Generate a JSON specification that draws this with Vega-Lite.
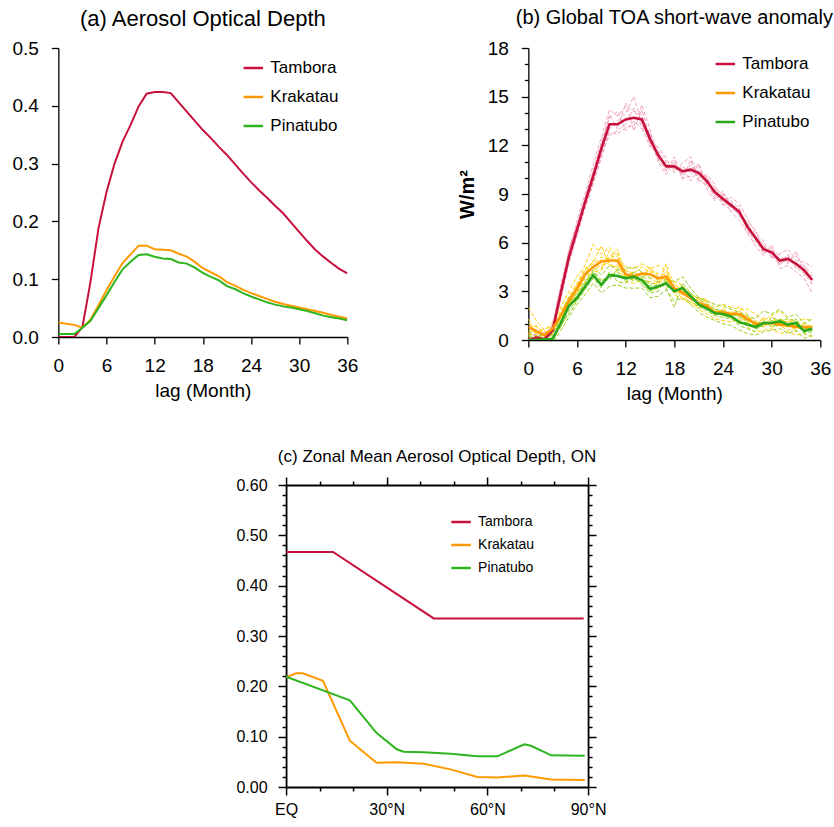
{
  "$schema": "https://vega.github.io/schema/vega-lite/v6.json",
  "background": "white",
  "padding": {"left": 11, "top": 8, "right": 2, "bottom": 2},
  "datasets": {
    "aodTime": [
      {"lag": 0, "Tambora": 0, "Krakatau": 0.025, "Pinatubo": 0.005},
      {"lag": 1, "Tambora": 0, "Krakatau": 0.023, "Pinatubo": 0.005},
      {"lag": 2, "Tambora": 0, "Krakatau": 0.021, "Pinatubo": 0.005},
      {"lag": 3, "Tambora": 0.017, "Krakatau": 0.016, "Pinatubo": 0.016},
      {"lag": 4, "Tambora": 0.095, "Krakatau": 0.030, "Pinatubo": 0.028},
      {"lag": 5, "Tambora": 0.188, "Krakatau": 0.055, "Pinatubo": 0.050},
      {"lag": 6, "Tambora": 0.251, "Krakatau": 0.081, "Pinatubo": 0.072},
      {"lag": 7, "Tambora": 0.300, "Krakatau": 0.105, "Pinatubo": 0.095},
      {"lag": 8, "Tambora": 0.338, "Krakatau": 0.128, "Pinatubo": 0.117},
      {"lag": 9, "Tambora": 0.367, "Krakatau": 0.143, "Pinatubo": 0.130},
      {"lag": 10, "Tambora": 0.399, "Krakatau": 0.158, "Pinatubo": 0.142},
      {"lag": 11, "Tambora": 0.421, "Krakatau": 0.158, "Pinatubo": 0.143},
      {"lag": 12, "Tambora": 0.424, "Krakatau": 0.152, "Pinatubo": 0.139},
      {"lag": 13, "Tambora": 0.424, "Krakatau": 0.151, "Pinatubo": 0.136},
      {"lag": 14, "Tambora": 0.422, "Krakatau": 0.150, "Pinatubo": 0.135},
      {"lag": 15, "Tambora": 0.406, "Krakatau": 0.144, "Pinatubo": 0.129},
      {"lag": 16, "Tambora": 0.390, "Krakatau": 0.139, "Pinatubo": 0.127},
      {"lag": 17, "Tambora": 0.374, "Krakatau": 0.130, "Pinatubo": 0.120},
      {"lag": 18, "Tambora": 0.358, "Krakatau": 0.119, "Pinatubo": 0.111},
      {"lag": 19, "Tambora": 0.344, "Krakatau": 0.112, "Pinatubo": 0.104},
      {"lag": 20, "Tambora": 0.329, "Krakatau": 0.105, "Pinatubo": 0.098},
      {"lag": 21, "Tambora": 0.315, "Krakatau": 0.095, "Pinatubo": 0.088},
      {"lag": 22, "Tambora": 0.299, "Krakatau": 0.089, "Pinatubo": 0.083},
      {"lag": 23, "Tambora": 0.283, "Krakatau": 0.082, "Pinatubo": 0.076},
      {"lag": 24, "Tambora": 0.268, "Krakatau": 0.076, "Pinatubo": 0.070},
      {"lag": 25, "Tambora": 0.254, "Krakatau": 0.071, "Pinatubo": 0.065},
      {"lag": 26, "Tambora": 0.241, "Krakatau": 0.066, "Pinatubo": 0.060},
      {"lag": 27, "Tambora": 0.227, "Krakatau": 0.061, "Pinatubo": 0.056},
      {"lag": 28, "Tambora": 0.214, "Krakatau": 0.057, "Pinatubo": 0.053},
      {"lag": 29, "Tambora": 0.198, "Krakatau": 0.054, "Pinatubo": 0.051},
      {"lag": 30, "Tambora": 0.182, "Krakatau": 0.051, "Pinatubo": 0.048},
      {"lag": 31, "Tambora": 0.166, "Krakatau": 0.048, "Pinatubo": 0.045},
      {"lag": 32, "Tambora": 0.151, "Krakatau": 0.045, "Pinatubo": 0.041},
      {"lag": 33, "Tambora": 0.139, "Krakatau": 0.042, "Pinatubo": 0.037},
      {"lag": 34, "Tambora": 0.128, "Krakatau": 0.038, "Pinatubo": 0.034},
      {"lag": 35, "Tambora": 0.118, "Krakatau": 0.035, "Pinatubo": 0.032},
      {"lag": 36, "Tambora": 0.110, "Krakatau": 0.032, "Pinatubo": 0.029}
    ],
    "toa": [
      {"lag": 0, "Tambora": 0, "Krakatau": 0.8, "Pinatubo": 0, "T1": 0.3, "T2": -0.2, "T3": 0.5, "T4": 0.0, "T5": 0.1, "T6": 0.4, "K1": 2.0, "K2": 0.4, "K3": 1.0, "K4": 0.6, "K5": 0.2, "K6": 1.3, "P1": 0.5, "P2": 0.0, "P3": 0.3, "P4": -0.1, "P5": 0.2, "P6": -0.2},
      {"lag": 1, "Tambora": 0.15, "Krakatau": 0.55, "Pinatubo": 0, "T1": 0.6, "T2": 0.1, "T3": 0.2, "T4": 0.4, "T5": -0.1, "T6": 0.3, "K1": 1.2, "K2": 0.2, "K3": 0.8, "K4": 0.4, "K5": 0.9, "K6": 0.3, "P1": 0.2, "P2": -0.3, "P3": 0.1, "P4": 0.2, "P5": 0.0, "P6": 0.3},
      {"lag": 2, "Tambora": 0.05, "Krakatau": 0.3, "Pinatubo": 0.05, "T1": 0.2, "T2": 0.5, "T3": -0.1, "T4": 0.3, "T5": 0.4, "T6": 0.0, "K1": 0.6, "K2": 0.1, "K3": 0.5, "K4": 0.0, "K5": 0.2, "K6": 0.7, "P1": 0.4, "P2": 0.0, "P3": -0.1, "P4": 0.3, "P5": 0.2, "P6": -0.1},
      {"lag": 3, "Tambora": 0.6, "Krakatau": 0.7, "Pinatubo": 0.05, "T1": 1.0, "T2": 0.4, "T3": 0.9, "T4": 0.3, "T5": 0.8, "T6": 0.5, "K1": 1.1, "K2": 0.4, "K3": 0.6, "K4": 0.9, "K5": 0.5, "K6": 0.8, "P1": 0.3, "P2": -0.2, "P3": 0.4, "P4": 0.1, "P5": 0.0, "P6": 0.2},
      {"lag": 4, "Tambora": 2.9, "Krakatau": 1.5, "Pinatubo": 1.05, "T1": 3.4, "T2": 2.5, "T3": 3.2, "T4": 2.7, "T5": 3.1, "T6": 2.6, "K1": 2.0, "K2": 1.1, "K3": 1.8, "K4": 1.3, "K5": 1.6, "K6": 1.2, "P1": 1.5, "P2": 0.6, "P3": 1.2, "P4": 0.9, "P5": 1.1, "P6": 0.8},
      {"lag": 5, "Tambora": 5.1, "Krakatau": 2.4, "Pinatubo": 2.1, "T1": 5.5, "T2": 4.7, "T3": 5.3, "T4": 4.9, "T5": 5.0, "T6": 5.6, "K1": 3.0, "K2": 2.0, "K3": 2.6, "K4": 2.2, "K5": 2.7, "K6": 2.1, "P1": 2.6, "P2": 1.4, "P3": 2.3, "P4": 1.6, "P5": 2.2, "P6": 1.8},
      {"lag": 6, "Tambora": 6.8, "Krakatau": 3.2, "Pinatubo": 2.6, "T1": 7.4, "T2": 6.4, "T3": 7.1, "T4": 6.6, "T5": 6.5, "T6": 7.0, "K1": 3.9, "K2": 2.7, "K3": 3.5, "K4": 3.0, "K5": 3.4, "K6": 2.9, "P1": 3.1, "P2": 2.2, "P3": 2.9, "P4": 2.4, "P5": 2.7, "P6": 2.5},
      {"lag": 7, "Tambora": 8.5, "Krakatau": 4.05, "Pinatubo": 3.3, "T1": 9.0, "T2": 8.1, "T3": 8.8, "T4": 8.3, "T5": 8.7, "T6": 8.2, "K1": 4.6, "K2": 3.6, "K3": 4.4, "K4": 3.8, "K5": 4.3, "K6": 4.1, "P1": 3.9, "P2": 2.8, "P3": 3.6, "P4": 3.1, "P5": 3.5, "P6": 3.2},
      {"lag": 8, "Tambora": 10.1, "Krakatau": 4.5, "Pinatubo": 4.0, "T1": 10.8, "T2": 9.7, "T3": 10.4, "T4": 9.8, "T5": 10.3, "T6": 9.6, "K1": 5.9, "K2": 4.2, "K3": 4.8, "K4": 4.3, "K5": 4.7, "K6": 4.9, "P1": 4.5, "P2": 3.5, "P3": 4.3, "P4": 3.8, "P5": 4.2, "P6": 3.9},
      {"lag": 9, "Tambora": 11.8, "Krakatau": 4.85, "Pinatubo": 3.4, "T1": 12.5, "T2": 11.2, "T3": 12.2, "T4": 11.5, "T5": 11.9, "T6": 11.4, "K1": 5.3, "K2": 4.3, "K3": 5.8, "K4": 4.6, "K5": 5.1, "K6": 4.4, "P1": 4.0, "P2": 2.9, "P3": 3.7, "P4": 3.2, "P5": 3.6, "P6": 3.3},
      {"lag": 10, "Tambora": 13.3, "Krakatau": 4.9, "Pinatubo": 4.0, "T1": 14.2, "T2": 12.8, "T3": 13.7, "T4": 13.0, "T5": 13.9, "T6": 12.6, "K1": 5.7, "K2": 5.1, "K3": 4.6, "K4": 4.8, "K5": 5.0, "K6": 5.5, "P1": 4.6, "P2": 3.3, "P3": 3.7, "P4": 4.2, "P5": 4.1, "P6": 3.9},
      {"lag": 11, "Tambora": 13.3, "Krakatau": 4.9, "Pinatubo": 3.95, "T1": 13.8, "T2": 12.7, "T3": 14.1, "T4": 13.5, "T5": 13.0, "T6": 12.9, "K1": 5.1, "K2": 5.6, "K3": 4.5, "K4": 4.2, "K5": 5.3, "K6": 4.6, "P1": 4.3, "P2": 3.4, "P3": 4.4, "P4": 3.6, "P5": 4.0, "P6": 4.2},
      {"lag": 12, "Tambora": 13.6, "Krakatau": 4.05, "Pinatubo": 3.8, "T1": 14.4, "T2": 13.1, "T3": 12.9, "T4": 14.0, "T5": 14.6, "T6": 13.3, "K1": 4.5, "K2": 3.6, "K3": 4.3, "K4": 3.9, "K5": 4.3, "K6": 3.8, "P1": 4.4, "P2": 3.2, "P3": 4.1, "P4": 3.5, "P5": 3.9, "P6": 3.6},
      {"lag": 13, "Tambora": 13.7, "Krakatau": 3.95, "Pinatubo": 3.9, "T1": 14.1, "T2": 13.2, "T3": 13.5, "T4": 15.0, "T5": 12.9, "T6": 14.3, "K1": 4.4, "K2": 3.5, "K3": 4.0, "K4": 3.7, "K5": 4.1, "K6": 4.2, "P1": 4.5, "P2": 3.2, "P3": 3.6, "P4": 4.2, "P5": 4.0, "P6": 3.8},
      {"lag": 14, "Tambora": 13.6, "Krakatau": 4.1, "Pinatubo": 3.7, "T1": 13.9, "T2": 14.5, "T3": 13.0, "T4": 13.3, "T5": 14.2, "T6": 13.1, "K1": 4.7, "K2": 3.7, "K3": 3.8, "K4": 4.2, "K5": 4.5, "K6": 3.9, "P1": 4.2, "P2": 3.2, "P3": 4.1, "P4": 3.4, "P5": 3.9, "P6": 3.5},
      {"lag": 15, "Tambora": 12.4, "Krakatau": 4.05, "Pinatubo": 3.15, "T1": 12.0, "T2": 13.0, "T3": 12.8, "T4": 12.2, "T5": 12.6, "T6": 11.9, "K1": 4.4, "K2": 3.6, "K3": 4.5, "K4": 3.8, "K5": 4.2, "K6": 4.4, "P1": 3.8, "P2": 2.6, "P3": 3.4, "P4": 2.9, "P5": 3.3, "P6": 3.0},
      {"lag": 16, "Tambora": 11.4, "Krakatau": 3.8, "Pinatubo": 3.3, "T1": 11.9, "T2": 11.0, "T3": 11.7, "T4": 11.1, "T5": 11.2, "T6": 11.6, "K1": 4.6, "K2": 3.4, "K3": 3.9, "K4": 3.5, "K5": 4.1, "K6": 3.6, "P1": 3.9, "P2": 2.7, "P3": 3.6, "P4": 3.0, "P5": 3.4, "P6": 3.2},
      {"lag": 17, "Tambora": 10.7, "Krakatau": 3.9, "Pinatubo": 3.5, "T1": 11.2, "T2": 10.2, "T3": 11.0, "T4": 10.5, "T5": 10.9, "T6": 10.4, "K1": 4.3, "K2": 4.7, "K3": 3.6, "K4": 3.8, "K5": 4.0, "K6": 4.2, "P1": 3.7, "P2": 3.1, "P3": 3.2, "P4": 3.8, "P5": 3.3, "P6": 3.6},
      {"lag": 18, "Tambora": 10.7, "Krakatau": 3.2, "Pinatubo": 3.0, "T1": 10.3, "T2": 11.1, "T3": 10.5, "T4": 10.9, "T5": 10.5, "T6": 11.3, "K1": 3.6, "K2": 2.8, "K3": 3.4, "K4": 3.0, "K5": 3.5, "K6": 3.1, "P1": 3.6, "P2": 2.4, "P3": 2.0, "P4": 3.2, "P5": 3.1, "P6": 2.9},
      {"lag": 19, "Tambora": 10.4, "Krakatau": 2.9, "Pinatubo": 3.2, "T1": 10.9, "T2": 10.0, "T3": 10.6, "T4": 10.2, "T5": 10.7, "T6": 9.9, "K1": 3.4, "K2": 2.5, "K3": 3.1, "K4": 2.6, "K5": 3.0, "K6": 2.8, "P1": 3.9, "P2": 2.6, "P3": 3.5, "P4": 2.9, "P5": 3.0, "P6": 3.3},
      {"lag": 20, "Tambora": 10.5, "Krakatau": 2.6, "Pinatubo": 2.7, "T1": 11.3, "T2": 10.1, "T3": 9.8, "T4": 10.8, "T5": 10.3, "T6": 11.1, "K1": 2.7, "K2": 2.4, "K3": 2.9, "K4": 2.2, "K5": 2.8, "K6": 2.3, "P1": 3.2, "P2": 2.2, "P3": 2.9, "P4": 2.5, "P5": 2.8, "P6": 2.6},
      {"lag": 21, "Tambora": 10.3, "Krakatau": 2.3, "Pinatubo": 2.2, "T1": 10.0, "T2": 10.8, "T3": 10.5, "T4": 9.9, "T5": 10.9, "T6": 9.7, "K1": 2.6, "K2": 1.9, "K3": 2.5, "K4": 2.1, "K5": 2.2, "K6": 2.6, "P1": 2.6, "P2": 1.7, "P3": 2.5, "P4": 2.0, "P5": 2.3, "P6": 2.1},
      {"lag": 22, "Tambora": 9.8, "Krakatau": 2.1, "Pinatubo": 1.95, "T1": 10.2, "T2": 9.3, "T3": 10.0, "T4": 9.5, "T5": 9.6, "T6": 10.1, "K1": 2.5, "K2": 1.6, "K3": 2.3, "K4": 1.9, "K5": 2.0, "K6": 2.4, "P1": 2.4, "P2": 1.4, "P3": 2.2, "P4": 1.8, "P5": 2.0, "P6": 1.9},
      {"lag": 23, "Tambora": 9.1, "Krakatau": 1.7, "Pinatubo": 1.65, "T1": 9.6, "T2": 8.6, "T3": 9.4, "T4": 8.9, "T5": 9.3, "T6": 8.7, "K1": 2.0, "K2": 1.3, "K3": 1.6, "K4": 1.8, "K5": 1.9, "K6": 1.5, "P1": 2.2, "P2": 1.2, "P3": 1.9, "P4": 1.5, "P5": 1.6, "P6": 1.8},
      {"lag": 24, "Tambora": 8.7, "Krakatau": 1.7, "Pinatubo": 1.6, "T1": 8.3, "T2": 9.2, "T3": 8.9, "T4": 8.4, "T5": 8.5, "T6": 9.0, "K1": 2.2, "K2": 1.2, "K3": 1.9, "K4": 1.5, "K5": 1.6, "K6": 2.0, "P1": 2.1, "P2": 1.0, "P3": 1.8, "P4": 1.4, "P5": 1.7, "P6": 1.5},
      {"lag": 25, "Tambora": 8.3, "Krakatau": 1.6, "Pinatubo": 1.45, "T1": 8.8, "T2": 7.9, "T3": 8.6, "T4": 8.0, "T5": 8.2, "T6": 8.4, "K1": 2.0, "K2": 1.1, "K3": 1.5, "K4": 1.8, "K5": 1.7, "K6": 1.4, "P1": 1.9, "P2": 0.9, "P3": 1.6, "P4": 1.3, "P5": 1.5, "P6": 1.4},
      {"lag": 26, "Tambora": 7.9, "Krakatau": 1.6, "Pinatubo": 1.1, "T1": 8.4, "T2": 7.4, "T3": 7.6, "T4": 8.1, "T5": 7.7, "T6": 8.2, "K1": 1.9, "K2": 1.3, "K3": 1.8, "K4": 1.4, "K5": 1.5, "K6": 2.1, "P1": 1.7, "P2": 0.6, "P3": 1.4, "P4": 0.9, "P5": 1.2, "P6": 1.0},
      {"lag": 27, "Tambora": 7.0, "Krakatau": 1.3, "Pinatubo": 0.95, "T1": 7.5, "T2": 6.6, "T3": 7.3, "T4": 6.8, "T5": 7.2, "T6": 6.6, "K1": 1.9, "K2": 0.8, "K3": 1.4, "K4": 1.1, "K5": 1.2, "K6": 1.6, "P1": 1.5, "P2": 0.4, "P3": 1.2, "P4": 0.7, "P5": 0.9, "P6": 1.1},
      {"lag": 28, "Tambora": 6.3, "Krakatau": 1.0, "Pinatubo": 0.8, "T1": 6.6, "T2": 5.8, "T3": 6.8, "T4": 6.0, "T5": 6.2, "T6": 6.5, "K1": 1.6, "K2": 0.5, "K3": 1.2, "K4": 0.9, "K5": 1.1, "K6": 0.8, "P1": 1.3, "P2": 0.3, "P3": 1.1, "P4": 0.5, "P5": 0.9, "P6": 0.7},
      {"lag": 29, "Tambora": 5.6, "Krakatau": 1.0, "Pinatubo": 1.05, "T1": 6.1, "T2": 5.2, "T3": 5.4, "T4": 5.8, "T5": 5.3, "T6": 5.9, "K1": 1.2, "K2": 0.6, "K3": 0.9, "K4": 1.3, "K5": 0.8, "K6": 1.4, "P1": 1.8, "P2": 0.5, "P3": 0.8, "P4": 1.2, "P5": 1.1, "P6": 0.9},
      {"lag": 30, "Tambora": 5.4, "Krakatau": 1.05, "Pinatubo": 1.05, "T1": 5.0, "T2": 5.9, "T3": 5.6, "T4": 5.2, "T5": 5.7, "T6": 5.1, "K1": 1.5, "K2": 0.7, "K3": 1.4, "K4": 0.8, "K5": 1.2, "K6": 0.9, "P1": 1.6, "P2": 0.6, "P3": 1.4, "P4": 0.8, "P5": 1.0, "P6": 1.2},
      {"lag": 31, "Tambora": 4.9, "Krakatau": 0.95, "Pinatubo": 1.15, "T1": 5.3, "T2": 4.4, "T3": 5.2, "T4": 4.7, "T5": 4.6, "T6": 5.0, "K1": 1.8, "K2": 0.4, "K3": 1.0, "K4": 0.9, "K5": 1.1, "K6": 1.3, "P1": 1.9, "P2": 0.7, "P3": 1.2, "P4": 1.0, "P5": 1.3, "P6": 1.1},
      {"lag": 32, "Tambora": 5.0, "Krakatau": 0.9, "Pinatubo": 0.95, "T1": 5.6, "T2": 4.6, "T3": 4.8, "T4": 5.3, "T5": 5.2, "T6": 4.7, "K1": 1.3, "K2": 0.5, "K3": 1.2, "K4": 0.6, "K5": 0.8, "K6": 1.1, "P1": 1.4, "P2": 0.4, "P3": 1.3, "P4": 0.8, "P5": 1.0, "P6": 0.9},
      {"lag": 33, "Tambora": 4.7, "Krakatau": 0.8, "Pinatubo": 1.05, "T1": 4.9, "T2": 4.2, "T3": 5.2, "T4": 4.5, "T5": 4.4, "T6": 5.5, "K1": 1.1, "K2": 0.3, "K3": 1.0, "K4": 0.7, "K5": 0.9, "K6": 0.5, "P1": 1.6, "P2": 0.6, "P3": 1.2, "P4": 1.3, "P5": 1.1, "P6": 0.9},
      {"lag": 34, "Tambora": 4.3, "Krakatau": 0.8, "Pinatubo": 0.55, "T1": 4.8, "T2": 3.8, "T3": 4.5, "T4": 4.1, "T5": 4.6, "T6": 4.0, "K1": 1.3, "K2": 0.4, "K3": 0.7, "K4": 1.0, "K5": 0.6, "K6": 1.1, "P1": 1.0, "P2": 0.1, "P3": 0.8, "P4": 0.4, "P5": 0.7, "P6": 0.5},
      {"lag": 35, "Tambora": 3.7, "Krakatau": 0.75, "Pinatubo": 0.7, "T1": 4.5, "T2": 2.9, "T3": 4.1, "T4": 3.4, "T5": 3.5, "T6": 4.0, "K1": 1.2, "K2": 0.2, "K3": 0.9, "K4": 0.6, "K5": 0.9, "K6": 0.7, "P1": 1.3, "P2": 0.3, "P3": 0.9, "P4": 0.5, "P5": 0.8, "P6": 0.6}
    ],
    "zonal": [
      {"lat": 0, "volcano": "Tambora", "aod": 0.467},
      {"lat": 14, "volcano": "Tambora", "aod": 0.467},
      {"lat": 44, "volcano": "Tambora", "aod": 0.335},
      {"lat": 88.7, "volcano": "Tambora", "aod": 0.335},
      {"lat": 0, "volcano": "Krakatau", "aod": 0.218},
      {"lat": 3, "volcano": "Krakatau", "aod": 0.226},
      {"lat": 5, "volcano": "Krakatau", "aod": 0.226},
      {"lat": 11, "volcano": "Krakatau", "aod": 0.211},
      {"lat": 19, "volcano": "Krakatau", "aod": 0.092},
      {"lat": 25.5, "volcano": "Krakatau", "aod": 0.056},
      {"lat": 27, "volcano": "Krakatau", "aod": 0.048},
      {"lat": 33, "volcano": "Krakatau", "aod": 0.049},
      {"lat": 41, "volcano": "Krakatau", "aod": 0.046},
      {"lat": 49, "volcano": "Krakatau", "aod": 0.035},
      {"lat": 57, "volcano": "Krakatau", "aod": 0.020},
      {"lat": 63, "volcano": "Krakatau", "aod": 0.019},
      {"lat": 71, "volcano": "Krakatau", "aod": 0.023},
      {"lat": 79, "volcano": "Krakatau", "aod": 0.015},
      {"lat": 89, "volcano": "Krakatau", "aod": 0.014},
      {"lat": 0, "volcano": "Pinatubo", "aod": 0.219},
      {"lat": 19, "volcano": "Pinatubo", "aod": 0.172},
      {"lat": 27, "volcano": "Pinatubo", "aod": 0.107},
      {"lat": 33, "volcano": "Pinatubo", "aod": 0.075},
      {"lat": 35, "volcano": "Pinatubo", "aod": 0.070},
      {"lat": 41, "volcano": "Pinatubo", "aod": 0.069},
      {"lat": 49, "volcano": "Pinatubo", "aod": 0.066},
      {"lat": 57, "volcano": "Pinatubo", "aod": 0.061},
      {"lat": 63, "volcano": "Pinatubo", "aod": 0.061},
      {"lat": 71, "volcano": "Pinatubo", "aod": 0.085},
      {"lat": 73, "volcano": "Pinatubo", "aod": 0.082},
      {"lat": 79, "volcano": "Pinatubo", "aod": 0.063},
      {"lat": 89, "volcano": "Pinatubo", "aod": 0.062}
    ]
  },
  "spacing": 45,
  "center": true,
  "resolve": {"scale": {"color": "independent"}, "legend": {"color": "independent"}},
  "vconcat": [
    {
      "resolve": {"scale": {"color": "independent"}, "legend": {"color": "independent"}},
      "hconcat": [
        {
          "width": 289,
          "height": 289,
          "title": {"text": "(a) Aerosol Optical Depth", "fontSize": 22, "frame": "group", "offset": 8},
          "data": {"name": "aodTime"},
          "transform": [{"fold": ["Tambora", "Krakatau", "Pinatubo"], "as": ["volcano", "aod"]}],
          "mark": {"type": "line", "strokeWidth": 2, "clip": true},
          "encoding": {
            "x": {
              "field": "lag", "type": "quantitative",
              "scale": {"domain": [0, 36], "nice": false},
              "axis": {"values": [0, 6, 12, 18, 24, 30, 36], "title": "lag (Month)", "labelFontSize": 19, "titleFontSize": 19, "tickSize": 7, "labelPadding": 12, "titlePadding": 6, "domainWidth": 1.3, "tickWidth": 1.3, "labelOverlap": false}
            },
            "y": {
              "field": "aod", "type": "quantitative",
              "scale": {"domain": [0, 0.5], "nice": false},
              "axis": {"values": [0, 0.1, 0.2, 0.3, 0.4, 0.5], "format": ".1f", "title": null, "labelFontSize": 19, "tickSize": 7, "labelPadding": 13, "domainWidth": 1.3, "tickWidth": 1.3, "labelOverlap": false}
            },
            "color": {
              "field": "volcano", "type": "nominal",
              "scale": {"domain": ["Tambora", "Krakatau", "Pinatubo"], "range": ["#c8103c", "#ff9900", "#2db41e"]},
              "legend": {"title": null, "orient": "none", "legendX": 184, "legendY": 9, "symbolType": "stroke", "symbolSize": 380, "symbolStrokeWidth": 2.5, "labelFontSize": 17, "rowPadding": 10, "labelOffset": 6, "padding": 0}
            }
          }
        },
        {
          "width": 292,
          "height": 292,
          "title": {"text": "(b) Global TOA short-wave anomaly", "fontSize": 20, "frame": "group", "offset": 11},
          "data": {"name": "toa"},
          "encoding": {
            "x": {
              "field": "lag", "type": "quantitative",
              "scale": {"domain": [0, 36], "nice": false},
              "axis": {"values": [0, 6, 12, 18, 24, 30, 36], "title": "lag (Month)", "labelFontSize": 19, "titleFontSize": 19, "tickSize": 7, "labelPadding": 12, "titlePadding": 6, "domainWidth": 1.3, "tickWidth": 1.3, "labelOverlap": false}
            },
            "y": {
              "field": "sw", "type": "quantitative",
              "scale": {"domain": [0, 18], "nice": false},
              "axis": {
                "values": [0, 1, 2, 3, 4, 5, 6, 7, 8, 9, 10, 11, 12, 13, 14, 15, 16, 17, 18],
                "labelExpr": "datum.value % 3 === 0 ? datum.label : ''",
                "labelOverlap": false,
                "tickSize": {"condition": {"test": "datum.value % 3 === 0", "value": 7}, "value": 4},
                "title": "W/m²", "titleFontSize": 20, "titleFontWeight": "bold", "titlePadding": 10,
                "labelFontSize": 19, "labelPadding": 13, "domainWidth": 1.3, "tickWidth": 1.3
              }
            }
          },
          "layer": [
            {
              "transform": [{"fold": ["T1", "T2", "T3", "T4", "T5", "T6"], "as": ["run", "sw"]}],
              "mark": {"type": "line", "color": "#f0a2ba", "strokeWidth": 1, "strokeDash": [4, 2], "clip": true},
              "encoding": {"detail": {"field": "run", "type": "nominal"}}
            },
            {
              "transform": [{"fold": ["K1", "K2", "K3", "K4", "K5", "K6"], "as": ["run", "sw"]}],
              "mark": {"type": "line", "color": "#ffcc00", "strokeWidth": 1, "strokeDash": [4, 2], "clip": true},
              "encoding": {"detail": {"field": "run", "type": "nominal"}}
            },
            {
              "transform": [{"fold": ["P1", "P2", "P3", "P4", "P5", "P6"], "as": ["run", "sw"]}],
              "mark": {"type": "line", "color": "#96cf1e", "strokeWidth": 1, "strokeDash": [4, 2], "clip": true},
              "encoding": {"detail": {"field": "run", "type": "nominal"}}
            },
            {
              "transform": [{"fold": ["Tambora", "Krakatau", "Pinatubo"], "as": ["volcano", "sw"]}],
              "mark": {"type": "line", "strokeWidth": 2.6, "clip": true},
              "encoding": {
                "color": {
                  "field": "volcano", "type": "nominal",
                  "scale": {"domain": ["Tambora", "Krakatau", "Pinatubo"], "range": ["#c8103c", "#ff9900", "#2aa81a"]},
                  "legend": {"title": null, "orient": "none", "legendX": 186, "legendY": 5, "symbolType": "stroke", "symbolSize": 380, "symbolStrokeWidth": 2.5, "labelFontSize": 17, "rowPadding": 10, "labelOffset": 6, "padding": 0}
                }
              }
            }
          ]
        }
      ],
      "spacing": 98
    },
    {
      "width": 302,
      "height": 302,
      "title": {"text": "(c) Zonal Mean Aerosol Optical Depth, ON", "fontSize": 17, "frame": "group", "offset": 10},
      "data": {"name": "zonal"},
      "layer": [
        {
          "mark": {"type": "line", "strokeWidth": 2, "clip": true},
          "encoding": {
            "x": {
              "field": "lat", "type": "quantitative",
              "scale": {"domain": [0, 90], "nice": false},
              "axis": {
                "values": [0, 10, 20, 30, 40, 50, 60, 70, 80, 90],
                "labelExpr": "datum.value === 0 ? 'EQ' : (datum.value % 30 === 0 ? datum.value + '°N' : '')",
                "labelOverlap": false,
                "tickSize": {"condition": {"test": "datum.value % 30 === 0", "value": 8}, "value": 4},
                "title": null, "labelFontSize": 16, "labelPadding": 6, "domainWidth": 1.8, "tickWidth": 1.5
              }
            },
            "y": {
              "field": "aod", "type": "quantitative",
              "scale": {"domain": [0, 0.6], "nice": false},
              "axis": {
                "values": [0, 0.02, 0.04, 0.06, 0.08, 0.1, 0.12, 0.14, 0.16, 0.18, 0.2, 0.22, 0.24, 0.26, 0.28, 0.3, 0.32, 0.34, 0.36, 0.38, 0.4, 0.42, 0.44, 0.46, 0.48, 0.5, 0.52, 0.54, 0.56, 0.58, 0.6],
                "labelExpr": "round(datum.value * 50) % 5 === 0 ? format(datum.value, '.2f') : ''",
                "labelOverlap": false,
                "tickSize": {"condition": {"test": "round(datum.value * 50) % 5 === 0", "value": 8}, "value": 4},
                "title": null, "labelFontSize": 16, "labelPadding": 11, "domainWidth": 1.8, "tickWidth": 1.5
              }
            },
            "color": {
              "field": "volcano", "type": "nominal",
              "scale": {"domain": ["Tambora", "Krakatau", "Pinatubo"], "range": ["#c8103c", "#ff9900", "#2db41e"]},
              "legend": {"title": null, "orient": "none", "legendX": 164, "legendY": 26, "symbolType": "stroke", "symbolSize": 380, "symbolStrokeWidth": 2.5, "labelFontSize": 14, "rowPadding": 5, "labelOffset": 6, "padding": 0}
            }
          }
        },
        {
          "mark": {"type": "line", "strokeOpacity": 0},
          "encoding": {
            "x": {
              "field": "lat", "type": "quantitative",
              "axis": {
                "orient": "top", "values": [0, 10, 20, 30, 40, 50, 60, 70, 80, 90], "labels": false,
                "tickSize": {"condition": {"test": "datum.value % 30 === 0", "value": 8}, "value": 4},
                "title": null, "domainWidth": 1.8, "tickWidth": 1.5
              }
            },
            "y": {
              "field": "aod", "type": "quantitative",
              "axis": {
                "orient": "right",
                "values": [0, 0.02, 0.04, 0.06, 0.08, 0.1, 0.12, 0.14, 0.16, 0.18, 0.2, 0.22, 0.24, 0.26, 0.28, 0.3, 0.32, 0.34, 0.36, 0.38, 0.4, 0.42, 0.44, 0.46, 0.48, 0.5, 0.52, 0.54, 0.56, 0.58, 0.6],
                "labels": false,
                "tickSize": {"condition": {"test": "round(datum.value * 50) % 5 === 0", "value": 8}, "value": 4},
                "title": null, "domainWidth": 1.8, "tickWidth": 1.5
              }
            },
            "detail": {"field": "volcano", "type": "nominal"}
          }
        }
      ],
      "resolve": {"axis": {"x": "independent", "y": "independent"}}
    }
  ],
  "config": {
    "view": {"stroke": null},
    "font": "Liberation Sans",
    "axis": {
      "domainColor": "#000000", "tickColor": "#000000", "labelColor": "#000000", "titleColor": "#000000",
      "grid": false, "labelFlush": false, "labelOverlap": false, "titleFontWeight": "normal",
      "labelFont": "Liberation Sans", "titleFont": "Liberation Sans"
    },
    "title": {"font": "Liberation Sans", "fontWeight": "normal", "color": "#000000", "anchor": "middle"},
    "legend": {"labelFont": "Liberation Sans", "labelColor": "#000000"}
  }
}
